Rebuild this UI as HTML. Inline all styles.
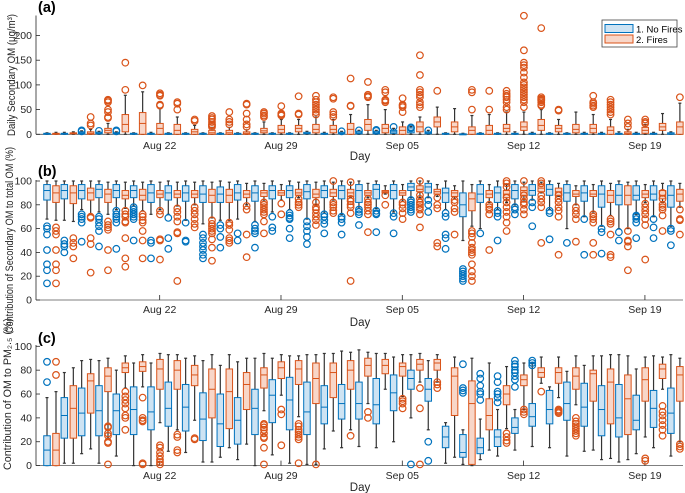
<!DOCTYPE html>
<html><head><meta charset="utf-8"><style>
body{margin:0;background:#fff}
svg{display:block;font-family:"Liberation Sans",sans-serif}
</style></head><body>
<svg id="chart" width="685" height="493" viewBox="0 0 685 493"></svg>
<script>
// ---- data ----
const dayLabels=["Aug 22","Aug 29","Sep 05","Sep 12","Sep 19"];
const dayTickIdx=[6,13,20,27,34];
// panel a: [lo,q1,med,q3,hi]
const aBlue=[[0,0,1,2,3],[0,0,1,2,4],[0,1,3,5,7],[0,1,2,4,6],[0,1,2,3,5],[0,0,1,2,3],[0,0,1,2,4],[0,0,1,2,3],[0,0,1,2,3],[0,0,1,2,3],[0,0,1,2,3],[0,0,1,2,3],[0,0,1,2,3],[0,0,1,2,3],[0,0,1,2,3],[0,1,2,4,6],[0,0,1,2,4],[0,1,2,4,6],[0,1,3,6,8],[0,1,3,6,8],[0,2,5,8,12],[0,3,8,13,16],[0,1,3,5,8],[0,0,1,2,3],[0,0,0,1,2],[0,0,1,2,3],[0,0,1,2,3],[0,0,1,2,5],[0,0,1,2,4],[0,0,1,2,3],[0,0,1,2,3],[0,0,1,2,4],[0,0,1,2,4],[0,0,1,2,5],[0,0,1,2,4],[0,0,1,2,4],[0,0,1,3,5]];
const aBlueOut=[[],[],[8,6],[7],[8,6],[],[],[],[],[],[],[],[],[],[],[],[],[6],[8],[9,7],[15],[14,12],[8],[],[],[],[],[],[],[],[],[],[],[],[],[],[]];
const aOrange=[[0,0,1,2,4],[0,1,2,3,5],[0,0,2,5,10],[0,3,8,12,22],[0,5,20,40,79],[0,0,22,44,86],[0,0,12,22,52],[0,0,8,20,35],[0,0,5,10,18],[0,0,3,8,14],[0,0,3,8,14],[0,0,2,5,9],[0,3,7,12,25],[0,3,10,18,30],[0,5,12,18,30],[0,3,10,20,35],[0,3,10,18,30],[0,0,10,22,40],[0,8,20,30,60],[0,3,12,20,50],[0,0,8,15,25],[0,5,15,25,35],[0,15,25,35,55],[0,5,15,25,52],[0,0,8,15,38],[0,0,8,18,40],[0,5,12,20,45],[0,8,15,25,45],[0,8,18,30,50],[0,5,12,18,30],[0,3,10,20,45],[0,3,12,20,40],[0,0,8,15,30],[0,0,2,5,10],[0,2,8,14,20],[0,8,15,22,42],[0,0,15,25,63]];
const aOrangeOut=[[],[],[35,22,18],[70,68,65,50,45,35,33],[145,90],[99],[83,80,78,60,58],[65,62,50],[30,27],[37,33,30,25,20,18,15],[45,30,25,20],[62,60,42,30,20,15],[45,42,38,35],[57,42,40,38],[77,42,40],[78,70,65,60,55,50,45,40],[75,72,45,40,35],[113,58,57],[106,80,77,75],[90,85,70,68,65],[73,60,58,55,45],[160,120,90,85,80,75,65,60,55],[88],[],[90,85,50],[88,50],[88,82,78,75,70,65,55,50],[240,170,145,140,135,125,115,105,100,95,90,85,80,75,70,65,55],[215,75,72,70,68,65,60,58],[50,48],[],[78,65,62,58,55],[70,65,60,55,50,45,40],[30,22,15],[30,25,22],[],[75]];
// panel b
const bBlue=[[68,84,92,97,100],[67,85,92,97,100],[76,85,92,97,100],[74,86,93,97,100],[76,86,92,97,100],[79,86,92,96,100],[72,82,90,97,100],[72,84,90,96,100],[67,83,90,96,100],[64,82,89,96,100],[67,82,89,95,100],[68,84,90,97,100],[66,83,90,96,100],[74,85,92,96,100],[76,86,92,96,100],[68,85,91,97,100],[73,86,92,96,100],[72,85,92,96,100],[77,82,92,97,100],[77,85,93,97,100],[74,85,92,97,100],[86,92,95,98,100],[86,90,95,98,100],[76,82,90,94,100],[50,70,80,90,100],[60,82,89,97,100],[76,82,90,95,100],[80,85,92,97,100],[84,88,92,97,100],[76,88,93,97,100],[60,83,90,97,100],[70,83,90,96,100],[62,78,89,96,100],[60,80,88,97,100],[72,84,88,96,100],[70,84,89,96,100],[62,78,88,96,100]];
const bBlueOut=[[62,60,55,42,30,25,14],[50,47,45,40],[72,70,68,65,49],[70,68,65,62,58,45],[75,72,70,68,65,43],[78,76,74,72,70,68,50],[50,48,35],[69,52,43],[65,50,49],[55,52,48,45,42,38,35],[63,60,53,44],[56,50],[63,60,58,56,44],[70,61,58],[73,71,69,68,60,52],[66,62,58,53,47],[72,70,67,64,56],[70,68,65,55],[76,74,72,63],[75,73,72,57],[73,70,56],[84,82,80,78,76,74],[84,80,74],[73,70,55,52,43],[26,24,22,20,18,16],[56],[75,73,70,50],[78,76,72],[82,78,62],[75,73,51],[48],[68,38],[60,57,39],[57,50],[71,70,68,65,52],[68,61,52],[60,58,46]];
const bOrange=[[67,82,90,96,100],[66,81,90,96,100],[72,84,90,94,100],[72,82,89,93,99],[77,85,88,92,99],[75,84,88,93,99],[76,86,89,92,99],[79,86,89,92,99],[80,86,89,92,99],[69,82,88,93,99],[67,82,88,93,99],[80,86,89,92,98],[83,87,90,92,98],[84,88,90,92,97],[86,88,90,93,99],[80,86,89,93,99],[84,87,90,93,99],[86,87,90,93,99],[86,88,90,92,98],[89,90,91,92,96],[83,88,90,92,97],[86,91,93,96,100],[87,89,91,93,97],[85,87,90,92,96],[62,75,85,90,97],[82,86,89,92,97],[82,86,89,92,97],[84,88,92,95,99],[90,91,94,97,99],[87,88,91,94,98],[80,87,89,92,96],[74,87,89,92,97],[71,82,88,92,98],[60,80,88,96,99],[82,86,89,92,97],[82,85,88,92,98],[78,83,89,93,98]];
const bOrangeOut=[[61,58,55,42,30,25,14],[52,48,45,35],[70,69,52,47,23],[66,63,61,59,42,25],[75,72,70,66,65,52,35,28],[72,70,67,65,58,50,35],[75,72,51,50,34],[77,74,70,66,57,56,16],[78,75,72,68,64,61],[67,64,62,60,58,56,51,44,33],[65,63,59,52,50,48],[79,76,55,36],[82,80,78,76,74,72,66,56],[81,72],[85,82,80,78],[82,78,76,73,70,67,63],[100,82,80,78,75,73],[99,85,83,80,78,73,16],[85,82,80,78,75,72,57],[88,80],[82,80,77,73,68],[100,88,85,82,80,78,76,72,61],[86,80,77,48,45],[84,82,77,74,55],[58,56,53,48,44,42,40,38,30,24,20,16],[80,78,76,72,42],[100,98,95,86,82,78,74,70,65,58],[100,88,85,82,80,76,72],[100,98,88,85,82,78,48],[88,85,82,78,75,70,38],[78,75,72,68,49],[72,70,68,65,48,38],[68,66,64,55,38,36],[58,50,49,45,25],[81,78,75,72,68,63,34],[90,85,80,78,76,71,58],[76,68,67,55]];
// panel c
const cBlue=[[0,0,13,25,57],[2,23,42,57,78],[10,25,44,65,88],[2,25,46,67,88],[8,26,46,60,80],[0,26,47,66,86],[0,30,45,66,86],[12,33,48,70,93],[11,29,49,68,90],[3,21,39,61,88],[7,16,35,60,84],[5,18,38,57,87],[0,26,48,64,90],[9,36,59,72,90],[2,30,55,74,92],[1,26,45,70,93],[14,35,49,67,94],[15,39,52,68,96],[16,39,52,70,97],[15,35,51,73,94],[20,46,61,76,91],[40,64,73,80,93],[30,54,64,73,88],[2,15,24,33,36],[1,7,11,26,30],[5,10,15,23,39],[8,16,24,30,47],[13,27,32,40,47],[16,33,41,52,86],[15,35,47,63,66],[8,38,52,70,79],[12,33,49,69,84],[5,25,47,67,92],[3,24,40,68,93],[10,30,38,59,81],[15,32,48,63,92],[8,27,44,65,93]];
const cBlueOut=[[87,70],[],[],[],[],[],[],[],[],[],[],[],[],[],[],[],[],[],[],[],[],[1],[20,4],[],[85,65,63,61],[77,73,67,62,60,55],[75,70,62,60,57,53],[88,85,83,80,78,75,72,66],[88,86,84],[],[],[],[],[],[],[],[]];
const cOrange=[[0,0,13,27,62],[2,23,48,67,82],[14,44,71,77,89],[23,62,75,82,90],[65,78,82,86,92],[66,79,83,87,93],[36,64,81,89,94],[30,64,80,88,93],[38,67,76,84,92],[3,40,64,81,93],[15,31,62,81,93],[18,47,68,78,90],[46,65,76,82,94],[59,73,82,87,93],[41,68,81,88,92],[1,52,73,86,93],[29,57,78,86,94],[30,64,80,88,95],[52,75,84,90,95],[64,77,84,89,94],[58,75,83,86,93],[70,80,85,89,94],[70,80,86,89,93],[7,42,75,82,91],[0,1,52,71,90],[13,30,42,56,86],[31,51,60,67,83],[47,67,72,76,86],[69,74,78,82,91],[57,69,78,82,91],[51,64,75,82,92],[13,54,77,80,92],[6,35,70,81,93],[5,26,56,76,92],[24,54,72,82,91],[64,73,81,85,91],[20,54,76,83,90]];
const cOrangeOut=[[87,76],[],[],[33,32,27,25,20,19,1],[62,58,55,52,48,42,40,30],[57,40,38,37,2,1],[17,15,11,8,5,3,1],[26,24,13,11],[23,22],[],[],[],[35,34,32,30,27,24,23,15,1],[47,43,17],[35,33,30,28,26,24,22,2],[1],[],[25],[45,40],[],[56,54,52,48],[65,48,1],[70,68,65],[],[],[],[27,24,21,19],[47,45,43],[62],[47,46,45,44],[40,37,35,33,31,29,27,25],[],[],[],[6,4],[50,45,42,38,34,30,25],[18,16,14]];

// ---- geometry ----
const NS="http://www.w3.org/2000/svg";
const svg=document.getElementById('chart');
const X0=36,X1=683;
function xDay(d){return 51.7+d*17.33;}
const BLUE="#0072BD",BLUEF="#cde3f3",OR="#D95319",ORF="#f8d6c8";
function el(tag,attrs,parent){const e=document.createElementNS(NS,tag);for(const k in attrs)e.setAttribute(k,attrs[k]);(parent||svg).appendChild(e);return e;}
function txt(s,attrs,parent){const t=el('text',attrs,parent);t.textContent=s;return t;}

const panels=[
 {id:'a',y0:134.3,k:0.494,top:15.5,ticks:[0,50,100,150,200],blue:aBlue,bo:aBlueOut,orange:aOrange,oo:aOrangeOut,tl:149,dayY:160,lab:'(a)',labY:12},
 {id:'b',y0:300,k:1.19,top:180,ticks:[0,20,40,60,80,100],blue:bBlue,bo:bBlueOut,orange:bOrange,oo:bOrangeOut,tl:313,dayY:326,lab:'(b)',labY:176},
 {id:'c',y0:465.6,k:1.193,top:345,ticks:[0,20,40,60,80,100],blue:cBlue,bo:cBlueOut,orange:cOrange,oo:cOrangeOut,tl:479,dayY:491,lab:'(c)',labY:343}
];

panels.forEach(p=>{
  const g=el('g',{});
  
  
  const y=v=>p.y0-v*p.k;
  const ax=el('line',{x1:X0,y1:p.top,x2:X0,y2:p.y0,stroke:'#262626','stroke-width':0.8},g);
  
  
  const bx=el('line',{x1:X0,y1:p.y0,x2:X1,y2:p.y0,stroke:'#555','stroke-width':0.8},g);
  
  
  p.ticks.forEach(v=>{
    el('line',{x1:X0,y1:y(v),x2:X0+4,y2:y(v),stroke:'#262626','stroke-width':0.8},g);
    const t=txt(String(v),{x:X0-4,y:y(v)+3.5,'text-anchor':'end','font-size':10.5,fill:'#262626'},g);
    
    
  });
  dayTickIdx.forEach((di,i)=>{
    const xx=xDay(di)+4;
    el('line',{x1:xx,y1:p.y0,x2:xx,y2:p.y0-5,stroke:'#262626','stroke-width':0.8},g);
    const t=txt(dayLabels[i],{x:xx,y:p.tl,'text-anchor':'middle','font-size':10.5,fill:'#262626'},g);
    
    
  });
  const dl=txt('Day',{x:360,y:p.dayY,'text-anchor':'middle','font-size':11.5,fill:'#262626'},g);
  
  
  const pl=txt(p.lab,{x:38,y:p.labY,'font-size':14.5,'font-weight':'bold',fill:'#000'},g);
  
  
  [[p.blue,p.bo,-4.7,BLUE,BLUEF,'blue'],[p.orange,p.oo,4.3,OR,ORF,'orange']].forEach(([data,outs,off,sc,fc,nm])=>{
    data.forEach((b,d)=>{
      const cx=xDay(d)+off,w=6.5;
      const bg=el('g',{},g);
      
      
      el('line',{x1:cx,y1:y(b[0]),x2:cx,y2:y(b[4]),stroke:'#333','stroke-width':1.2},bg);
      el('line',{x1:cx-1.5,y1:y(b[0]),x2:cx+1.5,y2:y(b[0]),stroke:'#333','stroke-width':1.2},bg);
      el('line',{x1:cx-1.5,y1:y(b[4]),x2:cx+1.5,y2:y(b[4]),stroke:'#333','stroke-width':1.2},bg);
      const h=Math.max(y(b[1])-y(b[3]),1);
      el('rect',{x:cx-w/2,y:y(b[3]),width:w,height:h,fill:fc,stroke:sc,'stroke-width':1},bg);
      el('line',{x1:cx-w/2,y1:y(b[2]),x2:cx+w/2,y2:y(b[2]),stroke:sc,'stroke-width':1},bg);
      outs[d].forEach(v=>{
        const c=el('circle',{cx:cx,cy:y(v),r:3.3,fill:'none',stroke:sc,'stroke-width':1.2},bg);
        
        
      });
    });
  });
});

function ytitle(s,x,cy,len,name){
  const t=txt(s,{x:0,y:0,transform:`translate(${x},${cy}) rotate(-90)`,'text-anchor':'middle','font-size':11,fill:'#262626',textLength:len,lengthAdjust:'spacingAndGlyphs'});
  
  
  return t;
}
ytitle('Daily Secondary OM (μg/m³)',15,75,122,'y-axis-title-a');
ytitle('Contribution of Secondary OM to total OM (%)',13,240,186,'y-axis-title-b');
ytitle('Contribution of OM to PM₂.₅ (%)',11,394,152,'y-axis-title-c');

const lg=el('g',{});


el('rect',{x:602,y:20,width:75,height:27,fill:'#fff',stroke:'#444','stroke-width':0.8},lg);
el('rect',{x:605,y:24.5,width:28,height:8,fill:BLUEF,stroke:BLUE,'stroke-width':1},lg);
el('rect',{x:605,y:35,width:28,height:8,fill:ORF,stroke:OR,'stroke-width':1},lg);
const l1=txt('1. No Fires',{x:636,y:32.5,'font-size':9.5,fill:'#000'},lg);


const l2=txt('2. Fires',{x:636,y:43,'font-size':9.5,fill:'#000'},lg);


</script>
</body></html>
